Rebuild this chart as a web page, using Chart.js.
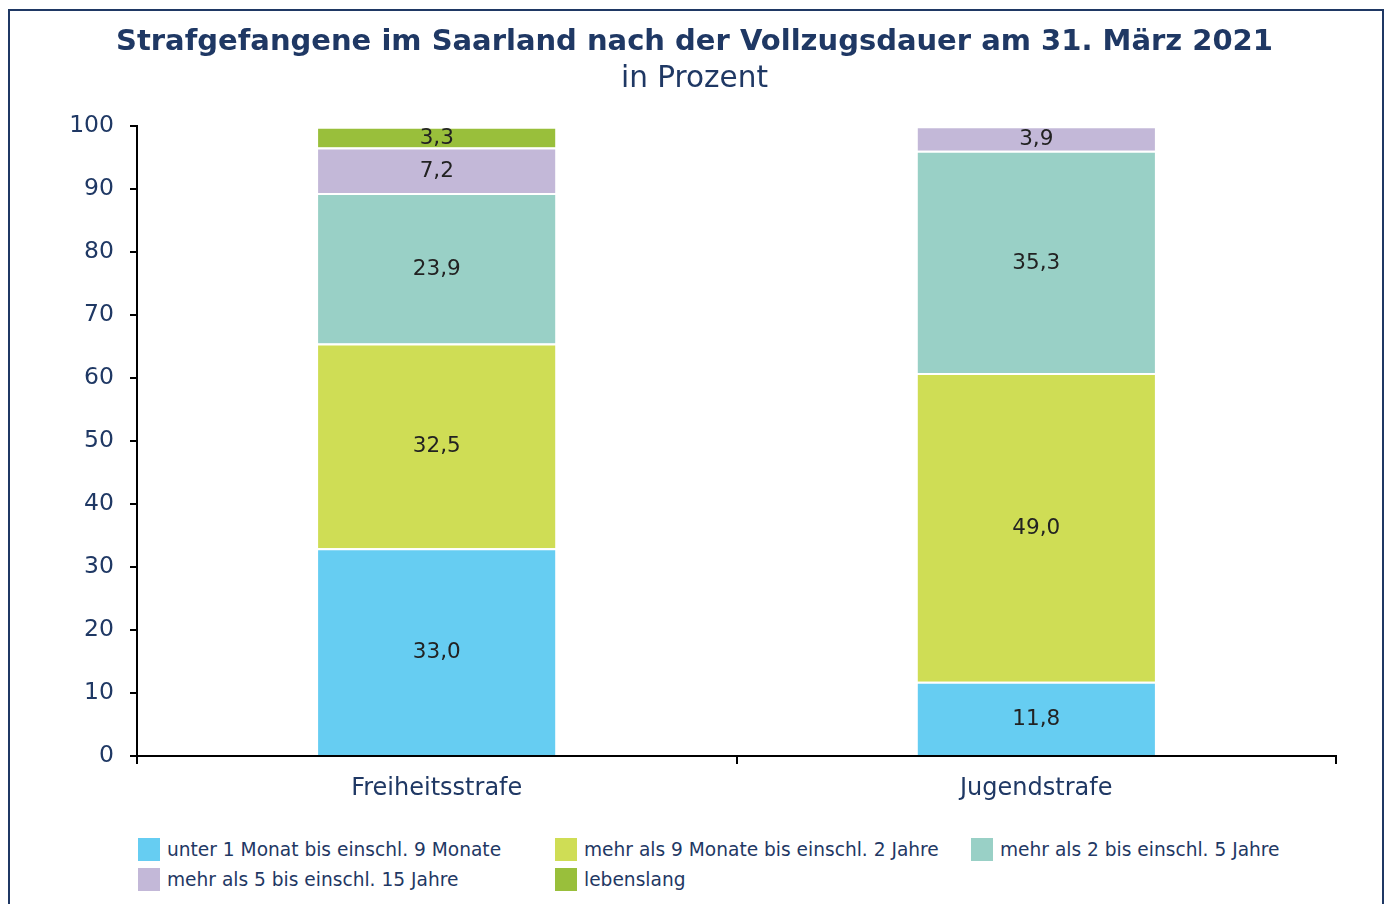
<!DOCTYPE html>
<html lang="de">
<head>
<meta charset="utf-8">
<title>Strafgefangene im Saarland</title>
<script src="https://cdn.jsdelivr.net/npm/chart.js@4.4.1/dist/chart.umd.min.js"></script>
<style>
  body { margin: 0; background: #fff; font-family: "DejaVu Sans", Verdana, sans-serif; }
  .frame {
    position: absolute; left: 8px; top: 9px; width: 1376px; height: 1000px;
    border: 2px solid #1f3864; box-sizing: border-box;
  }
  .wrap { position: absolute; left: 0; top: 0; width: 1389px; height: 830px; }
  .legend {
    position: absolute; left: 138px; top: 838px;
    display: grid; grid-template-columns: 417px 416px 416px; row-gap: 7px;
    color: #1f3864; font-size: 18.6px;
  }
  .legend span { display: flex; align-items: center; height: 23px; white-space: nowrap; }
  .legend i { display: inline-block; width: 22px; height: 23px; margin-right: 7px; }
</style>
</head>
<body>
<div class="frame"></div>
<div class="wrap"><canvas id="chart"></canvas></div>
<div class="legend" id="legend"></div>
<script>
// Daten
const kategorien = ['Freiheitsstrafe', 'Jugendstrafe'];
const serien = [
    'unter 1 Monat bis einschl. 9 Monate',
    'mehr als 9 Monate bis einschl. 2 Jahre',
    'mehr als 2 bis einschl. 5 Jahre',
    'mehr als 5 bis einschl. 15 Jahre',
    'lebenslang'
];
const unter9Monate = [33.0, 11.8];
const bis2Jahre = [32.5, 49.0];
const bis5Jahre = [23.9, 35.3];
const bis15Jahre = [7.2, 3.9];
const lebenslang = [3.3, 0];
const yTicks = [0, 10, 20, 30, 40, 50, 60, 70, 80, 90, 100];

const farben = ['#66cdf2', '#cfdd55', '#99d0c6', '#c3b8d8', '#99bf3b'];
const werte = [unter9Monate, bis2Jahre, bis5Jahre, bis15Jahre, lebenslang];
const navy = '#1f3864';

// Werte in die Balken schreiben
const wertLabels = {
    id: 'wertLabels',
    afterDatasetsDraw(chart) {
        const ctx = chart.ctx;
        ctx.save();
        ctx.font = '21.5px "DejaVu Sans"';
        ctx.fillStyle = '#222';
        ctx.textAlign = 'center';
        ctx.textBaseline = 'middle';
        chart.data.datasets.forEach((ds, i) => {
            chart.getDatasetMeta(i).data.forEach((bar, j) => {
                const v = ds.data[j];
                if (!v) return;
                ctx.fillText(v.toFixed(1).replace('.', ','), bar.x, (bar.y + bar.base) / 2 + 1);
            });
        });
        ctx.restore();
    }
};

const datasets = serien.map((name, i) => ({
    label: name,
    data: werte[i],
    backgroundColor: farben[i],
    borderColor: '#fff',
    borderWidth: { top: 2, left: 0, right: 0, bottom: 0 },
    borderSkipped: false,
    barPercentage: 0.396,
    categoryPercentage: 1
}));

new Chart(document.getElementById('chart'), {
    type: 'bar',
    data: { labels: kategorien, datasets: datasets },
    options: {
        responsive: true,
        maintainAspectRatio: false,
        animation: false,
        layout: { padding: { left: 53, right: 53, top: 0, bottom: 24 } },
        plugins: {
            legend: { display: false },
            tooltip: { enabled: false },
            title: {
                display: true,
                text: 'Strafgefangene im Saarland nach der Vollzugsdauer am 31. März 2021',
                color: navy,
                font: { family: '"DejaVu Sans"', size: 29, weight: 'bold' },
                padding: { top: 25, bottom: 1 }
            },
            subtitle: {
                display: true,
                text: 'in Prozent',
                color: navy,
                font: { family: '"DejaVu Sans"', size: 29.5 },
                padding: { top: 1, bottom: 29 }
            }
        },
        scales: {
            x: {
                stacked: true,
                border: { color: '#000', width: 2 },
                grid: { offset: true, drawOnChartArea: false, drawTicks: true, tickLength: 8, color: '#000', lineWidth: 2 },
                ticks: { color: navy, font: { family: '"DejaVu Sans"', size: 24 }, padding: 10 },
                afterFit(s) { s.height = 50; }
            },
            y: {
                stacked: true,
                min: 0,
                max: 100,
                border: { color: '#000', width: 2 },
                grid: { drawOnChartArea: false, drawTicks: true, tickLength: 7, color: '#000', lineWidth: 2 },
                ticks: { stepSize: 10, color: navy, font: { family: '"DejaVu Sans"', size: 23.5 }, padding: 16 },
                afterBuildTicks(s) { s.ticks = yTicks.map(v => ({ value: v })); },
                afterFit(s) { s.width = 84; }
            }
        }
    },
    plugins: [wertLabels]
});

// Legende
const legende = document.getElementById('legend');
serien.forEach((name, i) => {
    const item = document.createElement('span');
    item.innerHTML = `<i style="background:${farben[i]}"></i>${name}`;
    legende.appendChild(item);
});
</script>
</body>
</html>
